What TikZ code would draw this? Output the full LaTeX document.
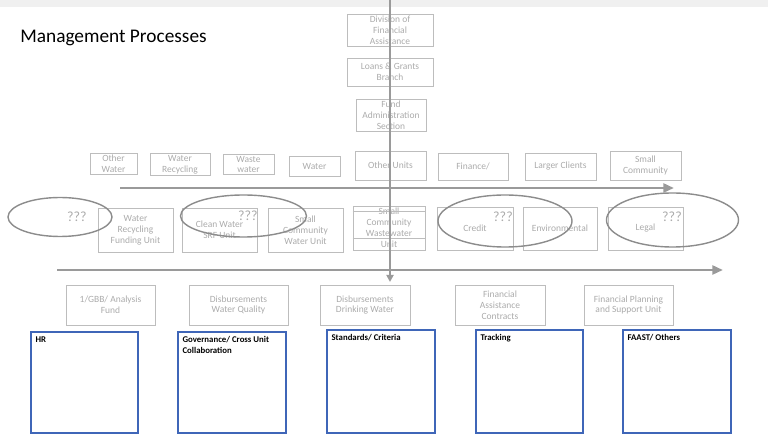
\documentclass[tikz,border=0pt]{standalone}
\usepackage{fontspec}
\setmainfont{Carlito}
\usetikzlibrary{shapes.geometric,arrows.meta}
\definecolor{fadetext}{HTML}{ABABAB}
\definecolor{fadeline}{HTML}{BDBDBD}
\definecolor{arrowgray}{HTML}{9A9A9A}
\definecolor{ellgray}{HTML}{8C8C8C}
\definecolor{bluebox}{HTML}{3F66B8}
\tikzset{
  sz/.style 2 args={minimum width=#1*0.02cm, minimum height=#2*0.02cm},
  fbox/.style={draw=fadeline, line width=0.5pt, text=fadetext, font=\fontsize{5.4}{6.2}\selectfont, align=center, inner sep=1pt},
  ell/.style={draw=ellgray, line width=0.8pt, ellipse, inner sep=0pt},
  qq/.style={text=fadetext, font=\fontsize{8}{9}\selectfont},
  bbox/.style={draw=bluebox, line width=1.2pt},
  blab/.style={font=\bfseries\fontsize{5}{5.9}\selectfont, text=black, align=left, anchor=north west, inner sep=0pt},
  bigarrow/.style={draw=arrowgray, line width=1.6pt, -{Triangle[length=6pt,width=5pt]}},
}
\begin{document}
\begin{tikzpicture}[x=0.02cm, y=-0.02cm]
\useasboundingbox (0,0) rectangle (768,435);
\fill[gray!12] (0,0) rectangle (768,7);
% title
\node[anchor=base west, inner sep=0pt, font=\fontsize{11}{13}\selectfont] (title) at (20,43) {Management Processes};
% top hierarchy
\node[fbox, sz={86}{29}] (dfa) at (390,30) {Division of\\Financial\\Assistance};
\node[fbox, sz={86}{28}] (lgb) at (390,72) {Loans \& Grants\\Branch};
\node[fbox, sz={70}{27}] (fas) at (391,115.5) {Fund\\Administration\\Section};
% row 1
\node[fbox, sz={47}{20}] (r1a) at (113.5,164) {Other\\Water};
\node[fbox, sz={60}{19}] (r1b) at (180,164.5) {Water\\Recycling};
\node[fbox, sz={51}{19}] (r1c) at (248.5,164.5) {Waste\\water};
\node[fbox, sz={51}{20}] (r1d) at (314.5,166) {Water};
\node[fbox, sz={71}{29}] (r1e) at (390.5,165.5) {Other Units};
\node[fbox, sz={70}{27}] (r1f) at (473,166.5) {Finance/};
\node[fbox, sz={71}{27}] (r1g) at (560.5,166.5) {Larger Clients};
\node[fbox, sz={71}{29}] (r1h) at (645.5,165.5) {Small\\Community};
% arrows
\coordinate (h1s) at (120,188);
\coordinate (h1e) at (674,188);
\coordinate (h2s) at (57,270);
\coordinate (h2e) at (723,270);
% row 2
\node[fbox, sz={75}{44}] (r2a) at (135.5,230) {Water\\Recycling\\Funding Unit};
\node[fbox, sz={75}{44}] (r2b) at (219.5,230) {Clean Water\\SRF Unit};
\node[fbox, sz={75}{44}] (r2c) at (305.5,230) {Small\\Community\\Water Unit};
\node[fbox, sz={72}{44}] (r2d) at (389,228) {Small\\Community\\Wastewater\\Unit};
\draw[fadeline, line width=0.5pt] (r2d.west |- 0,211) -- (r2d.east |- 0,211);
\draw[fadeline, line width=0.5pt] (r2d.west |- 0,238) -- (r2d.east |- 0,238);
\node[fbox, sz={76}{43}] (r2e) at (475,228.5) {Credit};
\node[fbox, sz={74}{43}] (r2f) at (560,228.5) {Environmental};
\node[fbox, sz={75}{43}] (r2g) at (645.5,228.5) {Legal};
% ellipses
\node[ell, sz={104}{39}] (e1) at (60,217) {};
\node[ell, sz={126}{42}] (e2) at (243.5,216) {};
\node[ell, sz={134}{52}] (e3) at (505,221) {};
\node[ell, sz={132}{54}] (e4) at (672.5,220) {};
\node[qq] (q1) at (77,217) {???};
\node[qq] (q2) at (248,216) {???};
\node[qq] (q3) at (503,217) {???};
\node[qq] (q4) at (672,217) {???};
% row 3
\node[fbox, sz={89}{40}] (r3a) at (110.5,305) {1/GBB/ Analysis\\Fund};
\node[fbox, sz={99}{40}] (r3b) at (238.5,305) {Disbursements\\Water Quality};
\node[fbox, sz={90}{40}] (r3c) at (365,305) {Disbursements\\Drinking Water};
\node[fbox, sz={90}{40}] (r3d) at (500,305) {Financial\\Assistance\\Contracts};
\node[fbox, sz={89}{40}] (r3e) at (628.5,305) {Financial Planning\\and Support Unit};
% vertical line
\coordinate (vtop) at (390,0);
\coordinate (vend) at (390,282);
\draw[draw=arrowgray, line width=1.2pt, -{Triangle[length=4pt,width=4pt]}] (vtop) -- (vend);
\draw[bigarrow] (h1s) -- (h1e);
\draw[bigarrow] (h2s) -- (h2e);
% bottom blue boxes
\node[bbox, sz={107}{101}] (b1) at (84.5,382.5) {};
\node[bbox, sz={108}{101}] (b2) at (232,382.5) {};
\node[bbox, sz={108}{103}] (b3) at (381,381.5) {};
\node[bbox, sz={107}{103}] (b4) at (529.5,381.5) {};
\node[bbox, sz={108}{103}] (b5) at (677,381.5) {};
\node[blab] (t1) at ([xshift=3pt,yshift=-3pt]b1.north west) {HR};
\node[blab] (t2) at ([xshift=3pt,yshift=-3pt]b2.north west) {Governance/ Cross Unit\\Collaboration};
\node[blab] (t3) at ([xshift=3pt,yshift=-3pt]b3.north west) {Standards/ Criteria};
\node[blab] (t4) at ([xshift=3pt,yshift=-3pt]b4.north west) {Tracking};
\node[blab] (t5) at ([xshift=3pt,yshift=-3pt]b5.north west) {FAAST/ Others};
\end{tikzpicture}
\end{document}
